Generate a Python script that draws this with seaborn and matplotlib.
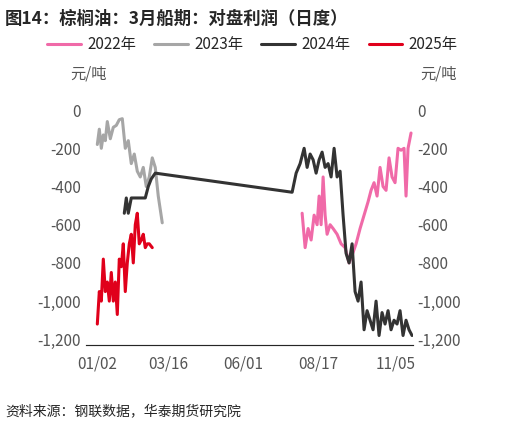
import matplotlib
matplotlib.use("Agg")
import matplotlib.pyplot as plt
import seaborn as sns
import pandas as pd

sns.set_style("white")
plt.rcParams['font.family'] = ['Noto Sans CJK SC', 'DejaVu Sans']

# x as pixel-estimated positions converted to day offsets (day 1 = 01/02)
def d(xs): return [(x - 97) / 0.974 + 1 for x in xs]

x2023 = [97, 99, 101, 103, 105, 107, 110, 113, 116, 119, 122, 125, 128, 131, 134, 137, 140, 143, 146, 149, 152, 155, 158, 162]
y2023 = [-180, -100, -200, -130, -160, -60, -150, -90, -80, -50, -45, -200, -160, -280, -230, -320, -350, -300, -400, -350, -250, -300, -450, -590]

x2025 = [97, 99, 101, 103, 105, 107, 109, 111, 113, 115, 117, 119, 121, 123, 125, 127, 129, 131, 133, 135, 137, 139, 141, 143, 145, 147, 149, 152]
y2025 = [-1120, -950, -1000, -780, -950, -900, -1000, -850, -1000, -900, -1070, -780, -820, -700, -950, -800, -700, -650, -800, -600, -540, -700, -680, -650, -720, -700, -700, -720]

x2024 = [124, 126, 128, 131, 135, 140, 145, 148, 151, 155, 292, 296, 300, 304, 307, 310, 313, 316, 319, 322, 325, 328, 331, 334, 337, 340, 343, 346, 349, 352, 355, 358, 361, 364, 367, 370, 373, 376, 379, 382, 385, 388, 391, 394, 397, 400, 403, 406, 409, 412]
y2024 = [-540, -460, -540, -460, -460, -460, -460, -400, -360, -330, -430, -330, -280, -200, -300, -230, -260, -330, -260, -220, -300, -280, -350, -200, -350, -320, -550, -750, -800, -700, -950, -1000, -900, -1150, -1050, -1100, -1150, -1000, -1180, -1060, -1120, -1050, -1150, -1100, -1120, -1050, -1180, -1100, -1150, -1180]

x2022 = [302, 305, 308, 311, 314, 317, 319, 321, 323, 325, 327, 330, 333, 337, 341, 345, 349, 352, 356, 360, 364, 368, 371, 374, 377, 380, 383, 386, 389, 392, 395, 398, 401, 404, 406, 408, 411]
y2022 = [-540, -720, -620, -680, -550, -600, -450, -600, -350, -550, -650, -600, -620, -650, -700, -720, -800, -760, -700, -620, -550, -480, -420, -380, -450, -300, -400, -420, -250, -350, -380, -200, -210, -200, -450, -200, -120]

series = [("2022年", x2022, y2022, "#f06aa8"), ("2023年", x2023, y2023, "#a6a6a6"),
          ("2024年", x2024, y2024, "#333333"), ("2025年", x2025, y2025, "#e0001b")]

tick_days = [1, 74, 151, 228, 308]
tick_labels = ["01/02", "03/16", "06/01", "08/17", "11/05"]

fig = plt.figure(figsize=(5.19, 4.26), dpi=100)
ax = fig.add_axes([0.165, 0.19, 0.63, 0.565])
for name, xs, ys, c in series:
    df = pd.DataFrame({"x": d(xs), "y": ys})
    sns.lineplot(data=df, x="x", y="y", ax=ax, color=c, lw=2.2, label=name, sort=False)
ax.set_xlim(-11, 325)
ax.set_ylim(-1230, 30)
ax.set_xticks(tick_days)
ax.set_xticklabels(tick_labels)
yt = list(range(-1200, 1, 200))
ax.set_yticks(yt)
ax.set_yticklabels([f"{v:,}" for v in yt])
ax.set_xlabel(""); ax.set_ylabel("")
ax2 = ax.twinx()
ax2.set_ylim(ax.get_ylim())
ax2.set_yticks(yt)
ax2.set_yticklabels([f"{v:,}" for v in yt])
for a in (ax, ax2):
    a.spines["top"].set_visible(False)
    a.spines["left"].set_visible(False)
    a.spines["right"].set_visible(False)
    a.tick_params(labelsize=11, colors="#555555", length=0)
ax.spines["bottom"].set_color("#888888")
ax.tick_params(axis="x", length=4, color="#888888")
handles, labels = ax.get_legend_handles_labels()
ax.get_legend().remove()
fig.legend(handles, labels, loc="center left", bbox_to_anchor=(0.065, 0.895), ncol=4, frameon=False,
           fontsize=11, handlelength=2.2, columnspacing=1.2, handletextpad=0.4)
fig.text(0.135, 0.815, "元/吨", fontsize=11, color="#555555")
fig.text(0.81, 0.815, "元/吨", fontsize=11, color="#555555")
fig.text(0.01, 0.945, "图14：棕榈油：3月船期：对盘利润（日度）", fontsize=12.5, fontweight="bold")
fig.text(0.01, 0.025, "资料来源：钢联数据，华泰期货研究院", fontsize=10, style="italic")
fig.savefig("out.png", dpi=100)
